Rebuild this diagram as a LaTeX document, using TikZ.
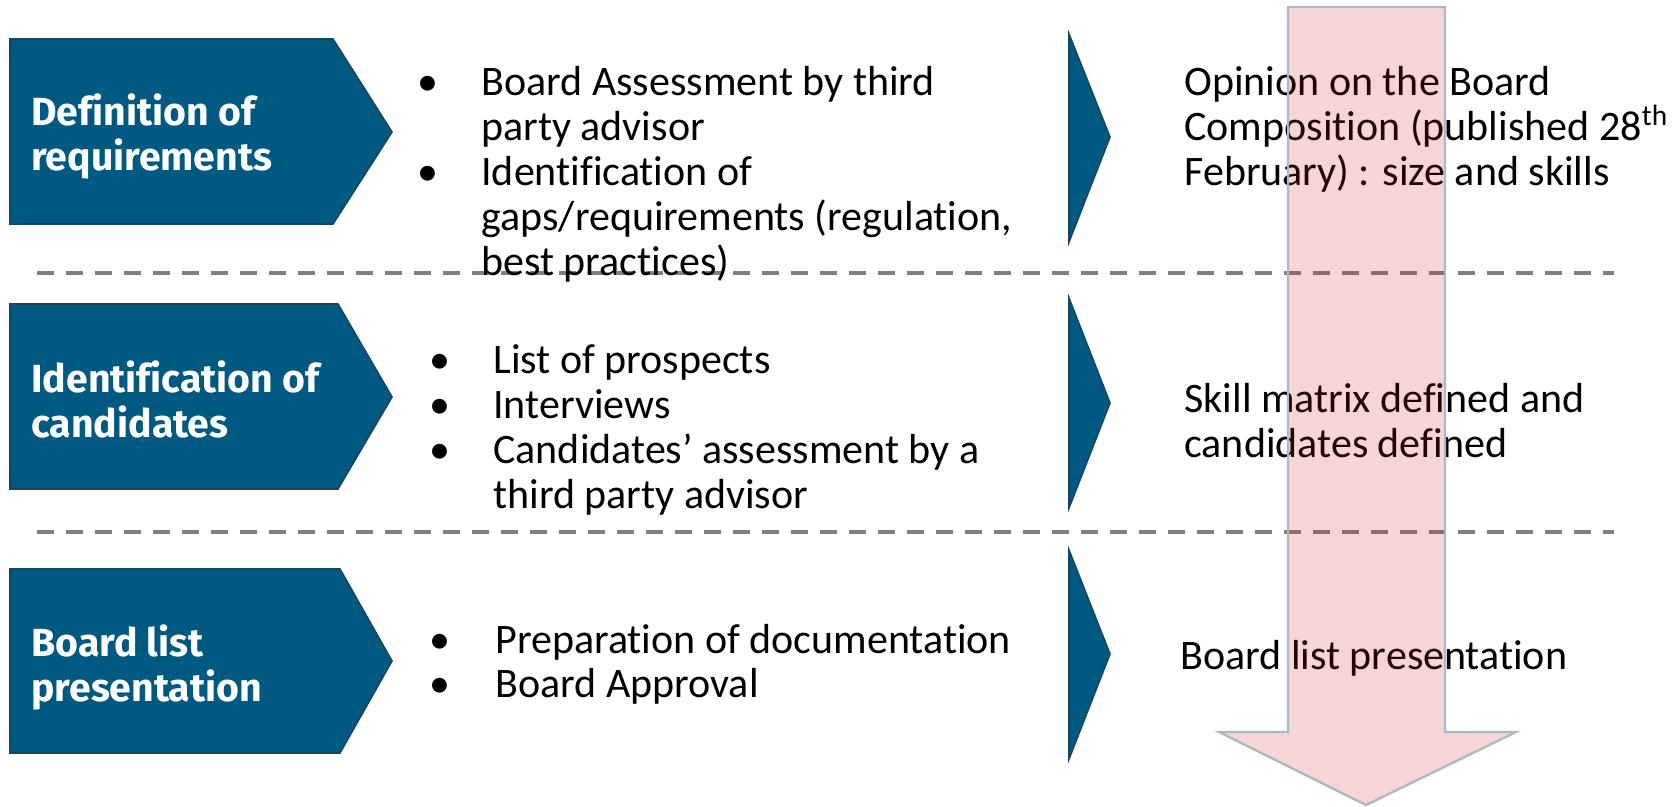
\documentclass[tikz,border=0pt]{standalone}
\usepackage{fontspec}
\setmainfont{Carlito}[Ligatures=NoCommon]
\newfontfamily\headfont{Fira Sans}[Ligatures=NoCommon]
\usetikzlibrary{positioning}

\definecolor{stepblue}{RGB}{0,89,129}
\definecolor{stepedge}{RGB}{22,68,98}
\definecolor{flowpink}{RGB}{200,20,30}
\definecolor{flowedge}{RGB}{172,186,198}
\definecolor{sepgray}{RGB}{128,128,128}

\begin{document}
\begin{tikzpicture}
	[x=0.5pt,y=-0.5pt,
	 stepbox/.style={fill=stepblue,draw=stepedge,line width=0.8pt},
	 steplabel/.style={anchor=base west,inner sep=0pt,align=left,text=white,
	   font=\headfont\bfseries\fontsize{19.6}{22.5}\selectfont},
	 item/.style={anchor=base west,inner sep=0pt,align=left,
	   font=\fontsize{21}{22.5}\selectfont},
	 sep/.style={sepgray,line width=2pt,dash pattern=on 8.5pt off 6pt}]
\useasboundingbox (0,0) rectangle (1679,807);
% step boxes on the left, pointers on the right
\foreach \t/\b/\m/\r in {39/224/132/333,304/489/397/338,569/753/661/340}
  \draw[stepbox] (10,\t) -- (\r,\t) -- (392,\m) -- (\r,\b) -- (10,\b) -- cycle;
\foreach \t/\b/\m in {34/242/137,298/508/403,550/759/654}
  \draw[stepbox] (1069,\t) -- (1110,\m) -- (1069,\b) -- cycle;
% separators
\foreach \y in {273,532}
  \draw[sep] (37,\y) -- (1614,\y);
% (multi-line nodes sit on the baseline of their last line)
\node[steplabel] (hd1) at (31,171) {Definition of\\requirements};
\node[steplabel] (hd2) at (31,437) {Identification of\\candidates};
\node[steplabel] (hd3) at (31,701) {Board list\\presentation};
% activities
\node[item] (b1a) at (417,96) {\textbullet};
\node[item] (it1a) at (481,141) {Board Assessment by third\\party advisor};
\node[item] (b1b) at (417,186) {\textbullet};
\node[item] (it1b) at (481,276) {Identification of\\gaps/requirements (regulation,\\best practices)};
\node[item] (b2a) at (429,373) {\textbullet};
\node[item] (it2a) at (493,373) {List of prospects};
\node[item] (b2b) at (429,418) {\textbullet};
\node[item] (it2b) at (493,418) {Interviews};
\node[item] (b2c) at (429,463) {\textbullet};
\node[item] (it2c) at (493,508) {Candidates’ assessment by a\\third party advisor};
\node[item] (b3a) at (429,653) {\textbullet};
\node[item] (it3a) at (495,653) {Preparation of documentation};
\node[item] (b3b) at (429,697) {\textbullet};
\node[item] (it3b) at (495,697) {Board Approval};
% outcomes
\node[item] (out1) at (1184,186) {Opinion on the Board\\Composition (published 28\textsuperscript{th}\\February) : size and skills};
\node[item] (out2) at (1184,457) {Skill matrix defined and\\candidates defined};
\node[item] (out3) at (1180,669) {Board list presentation};
% big downward arrow over the outcomes
\draw[flowedge,line width=1.2pt,fill=flowpink,fill opacity=0.18]
  (1288,7) -- (1445,7) -- (1445,732) -- (1516,732) -- (1366,805)
  -- (1219,732) -- (1288,732) -- cycle;
\end{tikzpicture}
\end{document}
